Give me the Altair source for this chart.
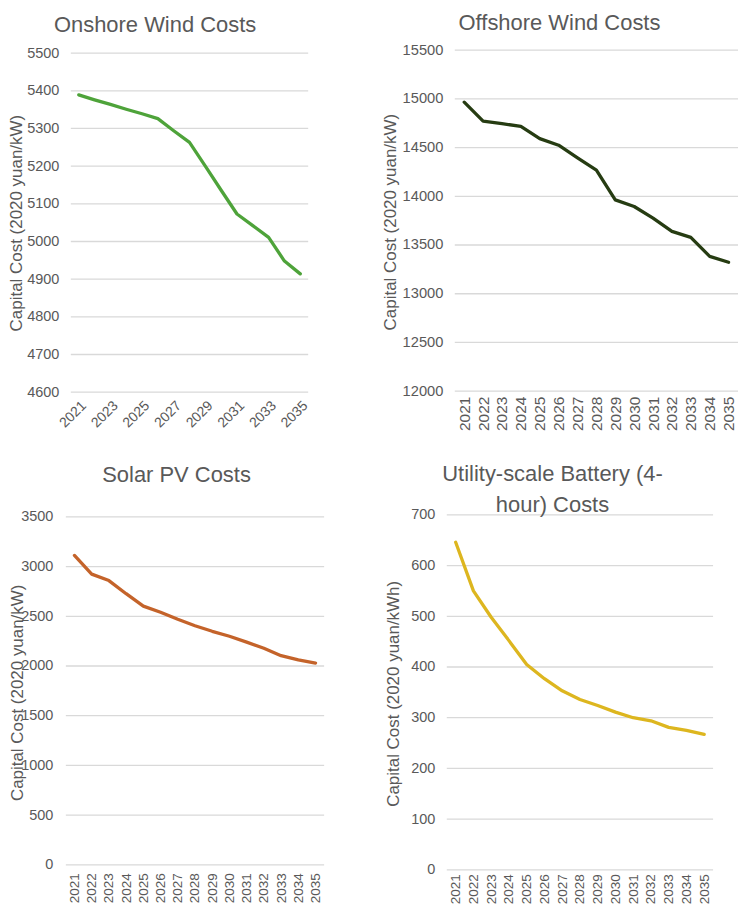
import altair as alt
import pandas as pd

years = [str(y) for y in range(2021, 2036)]
onshore = [5389, 5376, 5364, 5351, 5339, 5326, 5294, 5263, 5200, 5136, 5073, 5042, 5011, 4948, 4914]
offshore = [14966, 14772, 14745, 14718, 14592, 14524, 14395, 14269, 13963, 13895, 13776, 13640, 13578, 13384, 13323]
solar = [3112, 2924, 2859, 2727, 2602, 2540, 2470, 2405, 2349, 2299, 2240, 2178, 2104, 2062, 2030]
battery = [646, 550, 498, 452, 405, 377, 353, 336, 324, 311, 300, 294, 281, 275, 267]

onshore_ticks = list(range(4600, 5501, 100))
offshore_ticks = list(range(12000, 15501, 500))
solar_ticks = list(range(0, 3501, 500))
battery_ticks = list(range(0, 701, 100))

odd_years = [str(y) for y in range(2021, 2036, 2)]

LABEL_FONT = "Liberation Sans"
TITLE_FONT = "Liberation Sans"
GREY = "#595959"


def panel(title, values, ticks, color, ytitle, width, height, xrange, gridx, yrange,
          xlabels, xangle, xfont, xpad, xoffset, yfont, ypad,
          ytx, yty, tdx, toffset):
    df = pd.DataFrame({"year": years, "value": values})
    grid_df = pd.DataFrame({"v": ticks})
    yscale = alt.Scale(domain=[ticks[0], ticks[-1]], range=yrange, nice=False, zero=False)
    xscale = alt.Scale(type="point", padding=0.5, range=xrange)
    if xangle == -45:
        xaxis = alt.Axis(values=xlabels, labelAngle=-45, labelAlign="right", labelBaseline="top",
                         labelFontSize=xfont, labelColor=GREY, labelFont=LABEL_FONT,
                         labelPadding=xpad, ticks=False, domain=False, grid=False, title=None,
                         offset=xoffset, labelOverlap=False)
    else:
        xaxis = alt.Axis(values=xlabels, labelAngle=-90, labelAlign="right", labelBaseline="middle",
                         labelFontSize=xfont, labelColor=GREY, labelFont=LABEL_FONT,
                         labelPadding=xpad, ticks=False, domain=False, grid=False, title=None,
                         offset=xoffset, labelOverlap=False)
    yaxis = alt.Axis(values=ticks, format="d", grid=False, ticks=False, domain=False,
                     labelFontSize=yfont, labelColor=GREY, labelFont=LABEL_FONT,
                     labelPadding=ypad, title=ytitle, titleFont=LABEL_FONT,
                     titleFontSize=17, titleFontWeight="normal", titleColor=GREY,
                     titleX=ytx, titleY=yty, titleBaseline="bottom", titleAngle=270,
                     labelOverlap=False)
    grid = alt.Chart(grid_df).mark_rule(color="#d9d9d9", strokeWidth=1.3).encode(
        y=alt.Y("v:Q", scale=yscale, axis=yaxis, title=ytitle),
        x=alt.value(gridx[0]),
        x2=alt.value(gridx[1]),
    )
    line = alt.Chart(df).mark_line(color=color, strokeWidth=3.3, strokeJoin="round",
                                   strokeCap="round").encode(
        x=alt.X("year:O", scale=xscale, axis=xaxis, sort=years),
        y=alt.Y("value:Q", scale=yscale, axis=yaxis, title=ytitle),
    )
    tparams = dict(text=title, anchor="middle", frame="group", dx=tdx,
                   offset=toffset, fontSize=22, font=TITLE_FONT,
                   fontWeight="normal", color=GREY, baseline="top")
    if len(title) > 1:
        tparams["lineHeight"] = 31
    return alt.layer(grid, line).properties(
        width=width, height=height,
        title=alt.TitleParams(**tparams),
    )


p1 = panel(["Onshore Wind Costs"], onshore, onshore_ticks, "#4ea33a",
           "Capital Cost (2020 yuan/kW)", 243, 343, [5, 243], [5, 243], [343, 3],
           odd_years, -45, 14, 6, 0, 14.5, 7, -40, 173, -32, 8)
p2 = panel(["Offshore Wind Costs"], offshore, offshore_ticks, "#263c12",
           "Capital Cost (2020 yuan/kW)", 292, 343, [8, 292], [8, 292], [342, 0],
           years, -90, 15.5, 5, -1, 14.7, 4, -47, 172, -33, 7)
p3 = panel(["Solar PV Costs"], solar, solar_ticks, "#c4632a",
           "Capital Cost (2020 yuan/kW)", 259, 356, [0, 259], [0, 259], [351, 2],
           years, -90, 13.5, 8, -5, 14.5, 13, -39, 178, -18.5, 22)
p4 = panel(["Utility-scale Battery (4-", "hour) Costs"], battery, battery_ticks, "#ddb61f",
           "Capital Cost (2020 yuan/kWh)", 267, 356, [0, 267], [0, 267], [356, 0],
           years, -90, 13.5, 4, 0, 14.5, 12, -44, 179, -27.5, -10)

chart = alt.concat(p1, p2, p3, p4, columns=2, spacing=123, bounds="flush").properties(
    padding={"top": 3, "left": 0, "right": 0, "bottom": 0}, background="white"
).configure_view(strokeWidth=0, stroke="transparent")

chart.save("out.html", embed_options={"renderer": "svg", "actions": False})
